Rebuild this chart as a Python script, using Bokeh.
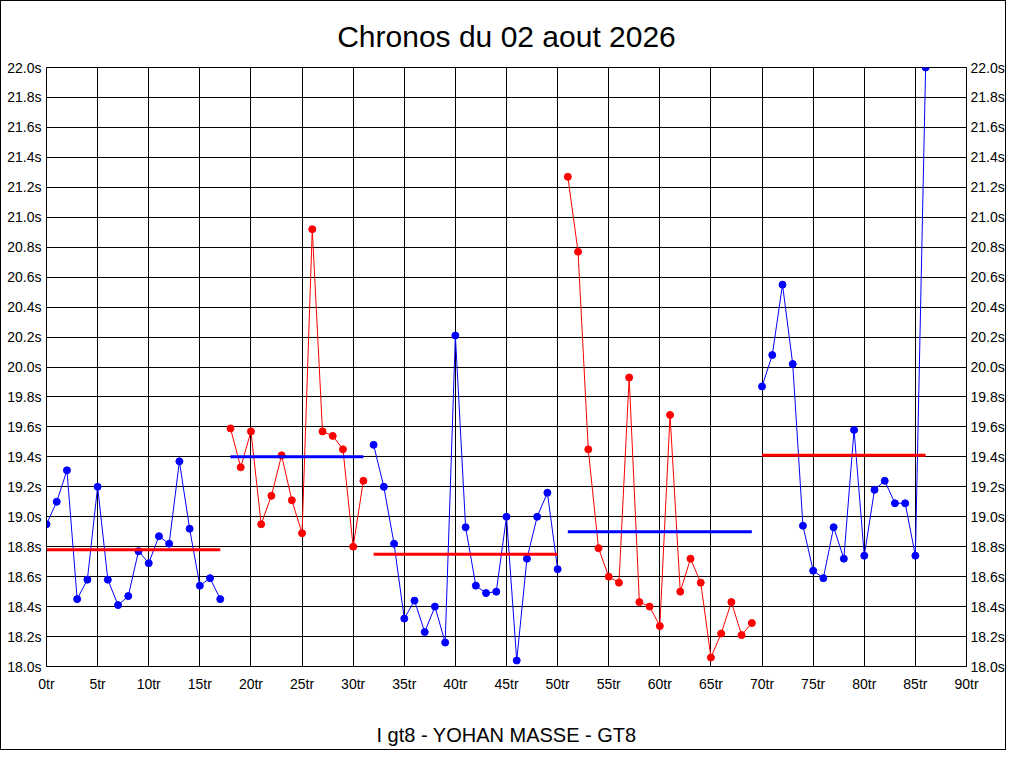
from bokeh.plotting import figure
from bokeh.models import FixedTicker, PrintfTickFormatter, LinearAxis, Range1d, ColumnDataSource
from bokeh.embed import file_html
from bokeh.resources import INLINE

title_text = "Chronos du 02 aout 2026"
x_label = "I gt8 - YOHAN MASSE - GT8"

stint1_laps = list(range(0, 18))
stint1_times = [18.95, 19.10, 19.31, 18.45, 18.58, 19.20, 18.58, 18.41, 18.47,
                18.77, 18.69, 18.87, 18.82, 19.37, 18.92, 18.54, 18.59, 18.45]
stint2_laps = list(range(18, 32))
stint2_times = [19.59, 19.33, 19.57, 18.95, 19.14, 19.41, 19.11, 18.89, 20.92,
                19.57, 19.54, 19.45, 18.80, 19.24]
stint3_laps = list(range(32, 51))
stint3_times = [19.48, 19.20, 18.82, 18.32, 18.44, 18.23, 18.40, 18.16, 20.21,
                18.93, 18.54, 18.49, 18.50, 19.00, 18.04, 18.72, 19.00, 19.16, 18.65]
stint4_laps = list(range(51, 70))
stint4_times = [21.27, 20.77, 19.45, 18.79, 18.60, 18.56, 19.93, 18.43, 18.40,
                18.27, 19.68, 18.50, 18.72, 18.56, 18.06, 18.22, 18.43, 18.21, 18.29]
stint5_laps = list(range(70, 87))
stint5_times = [19.87, 20.08, 20.55, 20.02, 18.94, 18.64, 18.59, 18.93, 18.72,
                19.58, 18.74, 19.18, 19.24, 19.09, 19.09, 18.74, 22.00]

stint_means = [18.78, 19.40, 18.75, 18.90, 19.41]
stint_colors = ["#0000ff", "#ff0000", "#0000ff", "#ff0000", "#0000ff"]
mean_colors = ["#ff0000", "#0000ff", "#ff0000", "#0000ff", "#ff0000"]

x_ticks = [0, 5, 10, 15, 20, 25, 30, 35, 40, 45, 50, 55, 60, 65, 70, 75, 80, 85, 90]
y_ticks = [18.0, 18.2, 18.4, 18.6, 18.8, 19.0, 19.2, 19.4, 19.6, 19.8, 20.0,
           20.2, 20.4, 20.6, 20.8, 21.0, 21.2, 21.4, 21.6, 21.8, 22.0]

FONT = "Liberation Sans"

p = figure(width=1006, height=750, x_range=Range1d(0, 90), y_range=Range1d(18, 22),
           output_backend="svg", toolbar_location=None,
           min_border_left=45, min_border_right=38, min_border_top=66, min_border_bottom=85)
p.styles = {"border": "1px solid black"}
p.background_fill_color = "white"
p.border_fill_color = "white"
p.outline_line_color = "black"
p.outline_line_width = 1

p.title.text = title_text
p.title.align = "center"
p.title.text_font = FONT
p.title.text_font_size = "30px"
p.title.text_font_style = "normal"
p.title.text_color = "black"
p.title.standoff = 30

ticker_x = FixedTicker(ticks=x_ticks)
ticker_y = FixedTicker(ticks=y_ticks)

p.xaxis.ticker = ticker_x
p.xaxis.formatter = PrintfTickFormatter(format="%dtr")
p.yaxis.ticker = ticker_y
p.yaxis.formatter = PrintfTickFormatter(format="%.1fs")

right_axis = LinearAxis(ticker=ticker_y, formatter=PrintfTickFormatter(format="%.1fs"))
p.add_layout(right_axis, "right")

for ax in list(p.xaxis) + list(p.yaxis):
    ax.axis_line_color = "black"
    ax.major_tick_line_color = None
    ax.minor_tick_line_color = None
    ax.major_tick_out = 0
    ax.major_tick_in = 0
    ax.major_label_text_font = FONT
    ax.major_label_text_font_size = "14px"
    ax.major_label_text_color = "black"
    ax.major_label_standoff = 5

p.xaxis.major_label_standoff = 9
right_axis.major_label_standoff = 4

p.xaxis.axis_label = x_label
p.xaxis.axis_label_text_font = FONT
p.xaxis.axis_label_text_font_size = "20px"
p.xaxis.axis_label_text_font_style = "normal"
p.xaxis.axis_label_text_color = "black"
p.xaxis.axis_label_standoff = 29

p.xgrid.ticker = ticker_x
p.ygrid.ticker = ticker_y
for g in (p.xgrid, p.ygrid):
    g.grid_line_color = "black"
    g.grid_line_width = 1
    g.grid_line_alpha = 1.0

stints = [(stint1_laps, stint1_times), (stint2_laps, stint2_times),
          (stint3_laps, stint3_times), (stint4_laps, stint4_times),
          (stint5_laps, stint5_times)]

for (laps, times), col, mean, mcol in zip(stints, stint_colors, stint_means, mean_colors):
    src = ColumnDataSource(data=dict(lap=laps, t=times))
    p.line("lap", "t", source=src, line_color=col, line_width=1)
    p.scatter("lap", "t", source=src, size=7, fill_color=col, line_color=col)
    p.segment(x0=[laps[0]], y0=[mean], x1=[laps[-1]], y1=[mean],
              line_color=mcol, line_width=3)

open("out.html", "w").write(file_html(p, INLINE))
